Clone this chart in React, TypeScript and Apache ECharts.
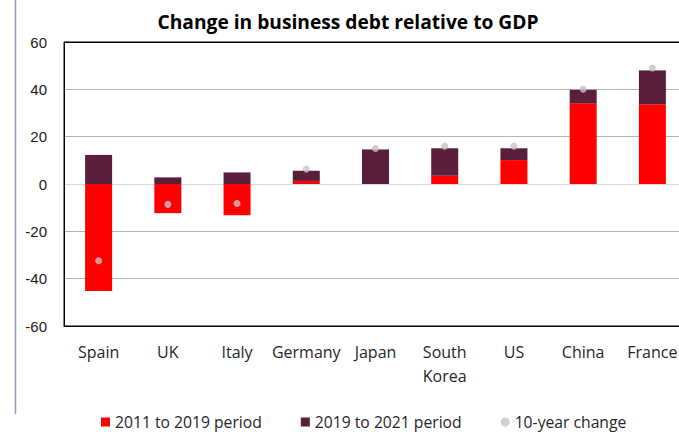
import React, { useEffect, useRef } from "react";
import * as echarts from "echarts";

const categories = ["Spain", "UK", "Italy", "Germany", "Japan", "South\nKorea", "US", "China", "France"];
const period2011to2019 = [-45.2, -12.3, -13.2, 1.3, 0, 3.5, 10.1, 34.1, 33.7];
const period2019to2021 = [12.3, 2.8, 4.9, 4.3, 14.6, 11.6, 5.0, 5.7, 14.3];
const tenYearChange = [-32.4, -8.6, -8.2, 6.3, 15.0, 16.0, 16.0, 40.1, 49.0];
const seriesNames = ["2011 to 2019 period", "2019 to 2021 period", "10-year change"];
const yTicks = { min: -60, max: 60, interval: 20 };

export default function App() {
  const ref = useRef<HTMLDivElement>(null);
  useEffect(() => {
    if (!ref.current) return;
    const chart = echarts.init(ref.current, null, { renderer: "svg" });
    const labelFont = "'Open Sans', sans-serif";
    chart.setOption({
      animation: false,
      backgroundColor: "#ffffff",
      title: {
        text: "Change in business debt relative to GDP",
        left: 343,
        textAlign: "center",
        top: 7,
        textStyle: { fontFamily: labelFont, fontWeight: "bold", fontSize: 19.2, color: "#000000" },
      },
      graphic: [
        {
          type: "line",
          shape: { x1: 15.5, y1: 0, x2: 15.5, y2: 414 },
          style: { stroke: "#8c9ab4", lineWidth: 1.5 },
        },
      ],
      legend: {
        left: 96,
        top: 409,
        itemWidth: 9,
        itemHeight: 9,
        itemGap: 39,
        data: [
          { name: seriesNames[0], icon: "rect" },
          { name: seriesNames[1], icon: "rect" },
          { name: seriesNames[2], icon: "circle" },
        ],
        textStyle: { fontFamily: labelFont, fontSize: 15.7, color: "#262626" },
      },
      grid: { left: 64, right: 13, top: 42, bottom: 108, show: true, borderColor: "#000000", borderWidth: 1 },
      xAxis: {
        type: "category",
        data: categories,
        axisLine: { show: true, onZero: false, lineStyle: { color: "#000000" } },
        axisTick: { show: false },
        axisLabel: {
          interval: 0,
          margin: 14,
          fontFamily: labelFont,
          fontSize: 16,
          lineHeight: 24,
          color: "#262626",
        },
      },
      yAxis: {
        type: "value",
        min: yTicks.min,
        max: yTicks.max,
        interval: yTicks.interval,
        axisLine: { show: true, lineStyle: { color: "#000000" } },
        axisTick: { show: false },
        axisLabel: {
          margin: 17,
          fontFamily: "'Liberation Sans', Arial, sans-serif",
          fontSize: 15,
          color: "#1a1a1a",
        },
        splitLine: {
          show: true,
          lineStyle: {
            color: ["#000000", "#b4b4b4", "#b4b4b4", "#d9d9d9", "#b4b4b4", "#b4b4b4", "#000000"],
            width: 1,
          },
        },
      },
      series: [
        {
          name: seriesNames[0],
          type: "bar",
          stack: "total",
          barWidth: 27,
          data: period2011to2019,
          itemStyle: { color: "#ff0000" },
        },
        {
          name: seriesNames[1],
          type: "bar",
          stack: "total",
          barWidth: 27,
          data: period2019to2021,
          itemStyle: { color: "#5a1f3b" },
        },
        {
          name: seriesNames[2],
          type: "scatter",
          data: tenYearChange,
          symbolSize: 7,
          z: 5,
          itemStyle: { color: "#c3c3c3" },
        },
      ],
    });
    return () => chart.dispose();
  }, []);
  return (
    <div
      ref={ref}
      style={{ position: "fixed", left: 0, top: 0, width: 700, height: 434 }}
    />
  );
}
